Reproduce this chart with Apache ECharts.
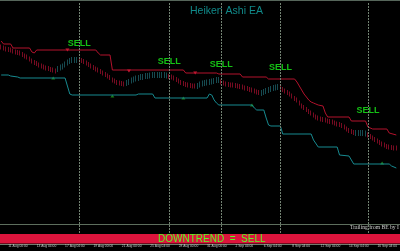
<!DOCTYPE html>
<html>
<head>
<meta charset="utf-8">
<script src="https://cdn.jsdelivr.net/npm/echarts@6/dist/echarts.min.js"></script>
<style>
  html, body { margin: 0; padding: 0; background: #000; }
  #chart { width: 400px; height: 251px; }
</style>
</head>
<body>
<div id="chart"></div>
<script>
// H4 bars, Heiken Ashi bodies (open / close), arbitrary price units
const barCount = 168;
const tickBars = [3, 15, 27, 39, 51, 63, 75, 87, 99, 111, 123, 135, 147, 159];
const tickLabels = ['11 Aug 00:00', '13 Aug 04:00', '17 Aug 04:00', '19 Aug 00:00', '21 Aug 00:00', '25 Aug 04:00', '28 Aug 00:00',
  '31 Aug 00:00', '2 Sep 04:00', '6 Sep 04:00', '8 Sep 04:00', '12 Sep 04:00', '14 Sep 04:00', '16 Sep 04:00'];

const haOpen = [
  179.5, 178.5, 177.5, 177, 176.5, 175.5, 174.5, 174, 173.5, 172, 170.5, 169.5, 167.5, 165.5, 164, 163, 161.5, 160.5, 159.5, 158.5, 158, 157, 156.5, 155.5,
  152, 153.5, 154.5, 156.5, 158.5, 160, 161, 161, 161,
  166.5, 166, 165, 163.5, 162, 160.5, 159, 157.5, 156.5, 155, 153.5, 152, 150.5, 149, 146.5, 145.5, 144, 143.5, 143, 142.5,
  138, 139, 140.5, 141.5, 142.5, 143, 144, 144, 145, 145, 145.5, 146, 146, 146, 146, 146, 146, 145.5,
  150, 149.5, 148.5, 147, 145.5, 144, 143, 142, 141.5, 141, 140.5, 140.5,
  135, 136.5, 137.5, 138, 138.5, 139, 139.5, 140, 141, 141,
  144.5, 143.5, 142.5, 142, 141.5, 141.5, 141, 140.5, 140, 139.5, 138.5, 138, 137, 136.5, 135.5, 134.5, 134,
  128, 129, 130, 131, 132, 133, 133.5, 134,
  138.5, 137, 135.5, 134, 132.5, 130.5, 128, 126.5, 123.5, 120.5, 119, 117, 115, 113.5, 111.5, 109.5, 108.5, 107.5, 107, 106.5, 105.5, 105, 104.5, 103.5, 102.5, 102, 101, 99.5, 97.5, 96, 95, 94,
  88, 88, 88, 88, 87.5,
  91.5, 90, 88.5, 87, 85.5, 84, 82.5, 81.5, 80, 79.5, 79, 78.5, 78.5
];
const haClose = [
  174.5, 173.5, 172.5, 172, 171.5, 170.5, 169.5, 169, 168.5, 167, 165.5, 164.5, 162.5, 160.5, 159, 158, 156.5, 155.5, 154.5, 153.5, 153, 152, 151.5, 150.5,
  158, 159.5, 160.5, 162.5, 164.5, 166, 167, 167, 167,
  161.5, 161, 160, 158.5, 157, 155.5, 154, 152.5, 151.5, 150, 148.5, 147, 145.5, 144, 141.5, 140.5, 139, 138.5, 138, 137.5,
  144, 145, 146.5, 147.5, 148.5, 149, 150, 150, 151, 151, 151.5, 152, 152, 152, 152, 152, 152, 151.5,
  145, 144.5, 143.5, 142, 140.5, 139, 138, 137, 136.5, 136, 135.5, 135.5,
  141, 142.5, 143.5, 144, 144.5, 145, 145.5, 146, 147, 147,
  139.5, 138.5, 137.5, 137, 136.5, 136.5, 136, 135.5, 135, 134.5, 133.5, 133, 132, 131.5, 130.5, 129.5, 129,
  134, 135, 136, 137, 138, 139, 139.5, 140,
  133.5, 132, 130.5, 129, 127.5, 125.5, 123, 121.5, 118.5, 115.5, 114, 112, 110, 108.5, 106.5, 104.5, 103.5, 102.5, 102, 101.5, 100.5, 100, 99.5, 98.5, 97.5, 97, 96, 94.5, 92.5, 91, 90, 89,
  94, 94, 94, 94, 93.5,
  86.5, 85, 83.5, 82, 80.5, 79, 77.5, 76.5, 75, 74.5, 74, 73.5, 73.5
];

// trailing stop levels [bar, price] where they change
const upperStop = [[0, 183], [1, 180], [4, 180], [5, 176], [12, 176], [13, 172], [14, 171], [15, 174], [40, 174], [41, 171], [42, 169],
  [46, 169], [47, 154], [77, 154], [78, 151], [91, 151], [92, 150], [101, 150], [102, 147], [112, 147], [113, 145], [124, 145],
  [125, 142], [126, 138], [127, 134], [128, 130], [129, 127], [130, 124], [131, 122], [132, 121], [133, 120], [134, 119], [136, 118],
  [137, 111], [138, 107], [147, 107], [148, 103], [154, 103], [155, 97], [157, 95], [163, 95], [164, 91], [167, 89]];
const lowerStop = [[0, 149], [3, 149], [4, 148], [7, 147], [8, 146], [27, 146], [28, 138], [29, 130], [30, 129], [57, 129], [58, 130],
  [64, 130], [65, 126], [87, 126], [88, 130], [89, 129], [90, 124], [91, 121], [92, 119], [106, 119], [107, 116], [108, 114],
  [111, 114], [112, 106], [113, 99], [114, 98], [118, 98], [119, 90], [131, 90], [132, 84], [134, 77], [142, 77], [143, 69],
  [147, 68], [148, 64], [149, 60], [164, 60], [165, 58], [167, 56]];

const upMarks = [[22, 146], [47, 128], [77, 126], [106, 119], [161, 61]];
const downMarks = [[28, 174], [54, 153], [82, 151]];

const sellBars = [33, 71, 93, 118, 155];
const sellLevels = [180, 162, 159, 156, 113];

const chart = echarts.init(document.getElementById('chart'));

const categories = Array.from({ length: barCount }, (_, i) => String(i));
const candles = haOpen.map((o, i) => {
  const c = haClose[i];
  return [o, c, Math.min(o, c), Math.max(o, c)];
});

chart.setOption({
  backgroundColor: '#000000',
  animation: false,
  grid: { left: 0, right: 0, top: 2, bottom: 18 },
  xAxis: {
    type: 'category',
    data: categories,
    boundaryGap: true,
    axisLine: { show: true, lineStyle: { color: '#5d6e5d', width: 1 } },
    axisTick: { show: false },
    axisLabel: {
      interval: (i) => tickBars.includes(i),
      formatter: (v) => tickLabels[tickBars.indexOf(Number(v))] || '',
      margin: 12,
      align: 'left',
      color: '#c8c8c8',
      fontSize: 3.3,
      fontFamily: 'Liberation Sans'
    },
    splitLine: { show: false }
  },
  yAxis: { type: 'value', min: -9, max: 222, show: false },
  graphic: [
    { type: 'rect', shape: { x: 0, y: 0, width: 400, height: 1 }, style: { fill: '#56665a' } },
    { type: 'line', shape: { x1: 0, y1: 224.5, x2: 400, y2: 224.5 }, style: { stroke: '#5b6b5b', lineWidth: 1 } },
    { type: 'rect', shape: { x: 0, y: 234, width: 400, height: 9.5 }, style: { fill: '#dc143c' } },
    { type: 'line', shape: { x1: 0, y1: 244.5, x2: 400, y2: 244.5 }, style: { stroke: '#6d7d6d', lineWidth: 1 } },
    {
      type: 'text', x: 190, y: 11,
      style: { text: 'Heiken Ashi EA', fill: '#108a8a', fontSize: 10.5, fontFamily: 'Liberation Sans', verticalAlign: 'middle' }
    },
    {
      type: 'text', x: 350, y: 227.5,
      style: { text: 'Trailing from BE by I', fill: '#d0d0d0', fontSize: 5.6, fontFamily: 'Liberation Serif', verticalAlign: 'middle' }
    },
    {
      type: 'text', x: 158, y: 238.8,
      style: { text: 'DOWNTREND  =  SELL', fill: '#55ff22', fontSize: 10, fontFamily: 'Liberation Sans', verticalAlign: 'middle' }
    }
  ],
  series: [
    {
      name: 'Heiken Ashi',
      type: 'candlestick',
      data: candles,
      barWidth: 1.1,
      itemStyle: {
        color: '#2c94a0', color0: '#ec1742',
        borderColor: '#2c94a0', borderColor0: '#ec1742', borderWidth: 0.5
      },
      markLine: {
        silent: true,
        symbol: 'none',
        label: { show: false },
        lineStyle: { color: '#728272', type: [2, 1], width: 1 },
        data: sellBars.map((b) => ({ xAxis: b }))
      }
    },
    {
      name: 'Upper stop',
      type: 'line',
      data: upperStop,
      symbol: 'none',
      lineStyle: { color: '#b3122c', width: 1 }
    },
    {
      name: 'Lower stop',
      type: 'line',
      data: lowerStop,
      symbol: 'none',
      lineStyle: { color: '#178a90', width: 1 }
    },
    {
      type: 'scatter',
      data: upMarks,
      symbol: 'triangle',
      symbolSize: [4, 3],
      itemStyle: { color: '#1f9a1f' }
    },
    {
      type: 'scatter',
      data: downMarks,
      symbol: 'triangle',
      symbolRotate: 180,
      symbolSize: [4, 3],
      itemStyle: { color: '#ff1f3f' }
    },
    {
      type: 'scatter',
      data: sellBars.map((b, i) => [b, sellLevels[i]]),
      symbol: 'circle',
      symbolSize: 1,
      itemStyle: { color: 'rgba(0,0,0,0)' },
      label: {
        show: true,
        position: 'inside',
        formatter: 'SELL',
        color: '#19f019',
        fontSize: 9,
        fontWeight: 'bold',
        fontFamily: 'Liberation Sans'
      }
    }
  ]
});
</script>
</body>
</html>
